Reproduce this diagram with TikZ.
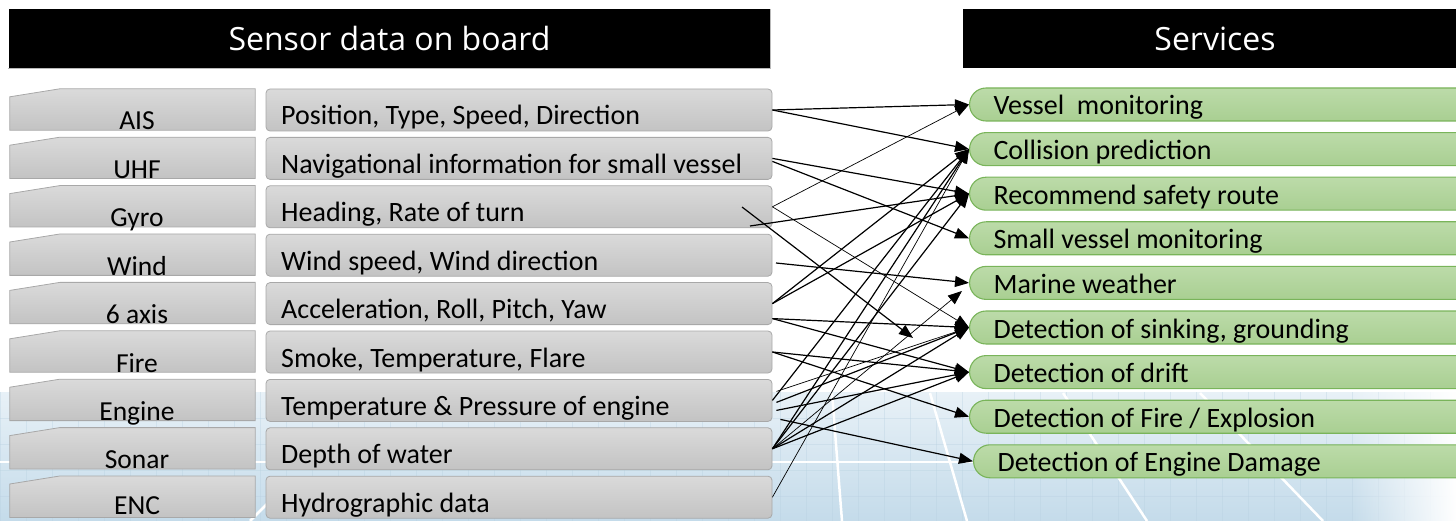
\documentclass[tikz,border=0pt]{standalone}
\usepackage{fontspec}
\setmainfont{Carlito}
\newfontfamily\headfont{Open Sans}
\usetikzlibrary{arrows.meta,calc,fadings}

\definecolor{boxtop}{HTML}{DADADA}
\definecolor{boxbot}{HTML}{C3C3C3}
\definecolor{boxline}{HTML}{A8A8A8}
\definecolor{svctop}{HTML}{BCDBA9}
\definecolor{svcbot}{HTML}{A9CF92}
\definecolor{svcline}{HTML}{79B45A}
\definecolor{bgtop}{HTML}{E8F1F7}
\definecolor{bgbot}{HTML}{C4DBEA}
\definecolor{gridline}{HTML}{B7D0E0}

\tikzfading[name=fadeinright, left color=transparent!100, right color=transparent!0]

\begin{document}
\begin{tikzpicture}[x=1pt,y=-1pt,
  hdr/.style={rectangle, fill=black, text=white, inner sep=0pt,
    minimum height=59pt, font=\headfont\fontsize{32}{38}\selectfont},
  sbox/.style={rectangle, draw=none, minimum width=245pt, minimum height=41pt, inner sep=0pt},
  sfill/.style={top color=boxtop, bottom color=boxbot, draw=boxline, line width=0.8pt},
  stext/.style={inner sep=0pt, anchor=base, font=\fontsize{27.5}{32}\selectfont},
  dbox/.style={rectangle, rounded corners=4pt, minimum width=506pt, minimum height=42pt,
    inner sep=0pt, top color=boxtop, bottom color=boxbot, draw=boxline, line width=0.8pt},
  dtext/.style={inner sep=0pt, anchor=base west, font=\fontsize{28}{32}\selectfont},
  svc/.style={rectangle, rounded corners=16.5pt, anchor=west, minimum height=33pt,
    text width=462pt, inner xsep=24pt, inner ysep=0pt, align=flush left,
    text height=23pt, text depth=2pt,
    top color=svctop, bottom color=svcbot, draw=svcline, line width=1.1pt,
    font=\fontsize{28}{32}\selectfont},
  conn/.style={draw, line width=1.2pt, -{Triangle[length=14pt,width=11pt]}},
  thinconn/.style={conn, line width=0.7pt}]

\useasboundingbox (0,0) rectangle (1456,521);
\clip (0,0) rectangle (1456,521);

% light blue backdrop with a faint panel grid along the bottom
\fill[top color=bgtop, bottom color=bgbot] (0,392) rectangle (1456,521);
\foreach \gx in {0,26,...,1456} \draw[gridline, opacity=0.35, line width=0.6pt] (\gx,392) -- (\gx,521);
\foreach \gy in {418,444,470,496} \draw[gridline, opacity=0.35, line width=0.6pt] (0,\gy) -- (1456,\gy);
\fill[white, path fading=fadeinright] (1350,392) rectangle (1456,521);
\draw[white, line width=2.5pt] (0,462) -- (1456,462);
\draw[white, line width=2.5pt] (832,393) -- (842,521);
\draw[white, line width=2.5pt] (930,393) -- (967,521);
\draw[white, line width=2.5pt] (1063,393) -- (1147,521);
\draw[white, line width=2.5pt] (1200,393) -- (1323,521);
\draw[white, line width=2.5pt] (250,521) -- (275,496);

% headers
\node[hdr, minimum width=761pt] (h1) at (389.5,38.5) {Sensor data on board};
\draw[gray!55, line width=0.8pt] ($(h1.south west)+(-1,0.5)$) -- ($(h1.south east)+(0,0.5)$) -- (h1.north east);
\node[hdr, minimum width=504pt] (h2) at (1215,38.5) {Services};

% sensors and the data they deliver
\foreach \i/\n/\lab/\ly/\desc in {
  0/ais/AIS/41/{Position, Type, Speed, Direction},
  1/uhf/UHF/41/{Navigational information for small vessel},
  2/gyro/Gyro/41/{Heading, Rate of turn},
  3/wind/Wind/41/{Wind speed, Wind direction},
  4/six/6 axis/41/{Acceleration, Roll, Pitch, Yaw},
  5/fire/Fire/41/{Smoke, Temperature, Flare},
  6/engine/Engine/41/{Temperature \& Pressure of engine},
  7/sonar/Sonar/41/{Depth of water},
  8/enc/ENC/38.5/{Hydrographic data}}
{
  \pgfmathsetmacro\t{89+48.4*\i}
  \node[sbox] (\n) at (132.5,\t+20.5) {};
  \path[sfill] (\n.south west) -- ($(\n.north west)+(0,8)$) -- ($(\n.north west)+(50,0)$)
     -- (\n.north east) -- (\n.south east) -- cycle;
  \node[stext] (\n-l) at (137,\t+\ly) {\lab};
  \node[dbox] (\n-d) at (519,\t+21) {};
  \node[dtext] (\n-t) at (281,\t+36) {\desc};
}

% services
\foreach \j/\n/\sx/\txt in {
  0/s1/969/{Vessel\ \ monitoring},
  1/s2/969/{Collision prediction},
  2/s3/969/{Recommend safety route},
  3/s4/969/{Small vessel monitoring},
  4/s5/969/{Marine weather},
  5/s6/969/{Detection of sinking, grounding},
  6/s7/969/{Detection of drift},
  7/s8/969/{Detection of Fire / Explosion},
  8/s9/973/{Detection of Engine Damage}}
{
  \pgfmathsetmacro\t{88+44.6*\j}
  \node[svc] (\n) at (\sx,\t+16.5) {\txt};
}

% extra start and end points
\coordinate (gyro-a) at (750,226);
\coordinate (gyro-b) at (742,207);
\coordinate (wind-a) at (776,263);
\coordinate (loose1) at (913,338);
\coordinate (loose2) at (962,291);

% data flows
\draw[conn] (ais-d.east) -- (s1.west);
\draw[conn] (ais-d.east) -- (s2.west);
\draw[conn] (uhf-d.east) -- (s3.west);
\draw[conn] ($(uhf-d.east)+(0,3)$) -- (s4.west);
\draw[thinconn] (gyro-d.east) -- (s1.west);
\draw[thinconn] (gyro-d.east) -- (s6.west);
\draw[conn] (gyro-a) -- (s3.west);
\draw[conn] (gyro-b) -- (loose1);
\draw[conn] (wind-a) -- (s5.west);
\draw[conn] (six-d.east) -- (s2.west);
\draw[conn] (six-d.east) -- (s3.west);
\draw[conn] ($(six-d.east)+(0,15)$) -- (s6.west);
\draw[conn] ($(six-d.east)+(0,15)$) -- (s7.west);
\draw[conn] (fire-d.east) -- (s7.west);
\draw[conn] (fire-d.east) -- (s8.west);
\draw[conn] (engine-d.east) -- (s2.west);
\draw[thinconn] ($(engine-d.east)+(4,-9)$) -- (s6.west);
\draw[conn] ($(engine-d.east)+(4,2)$) -- (s6.west);
\draw[conn] ($(engine-d.east)+(4,10)$) -- (s7.west);
\draw[conn] ($(engine-d.east)+(8,19)$) -- (s9.west);
\draw[conn] (sonar-d.east) -- (s2.west);
\draw[conn] (sonar-d.east) -- (s3.west);
\draw[thinconn] (sonar-d.east) -- (loose2);
\draw[conn] (sonar-d.east) -- (s6.west);
\draw[conn] (sonar-d.east) -- (s7.west);
\draw[thinconn] (enc-d.east) -- (s2.west);
\end{tikzpicture}
\end{document}
